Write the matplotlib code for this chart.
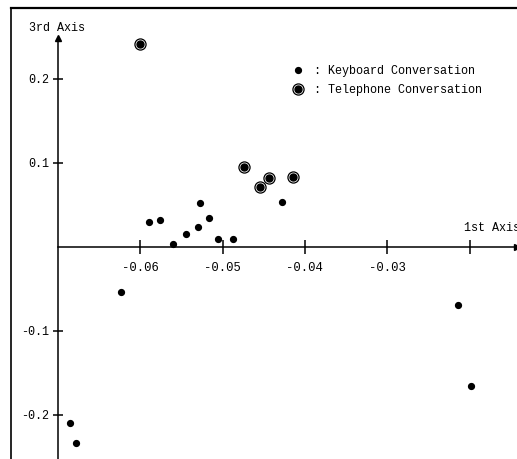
import matplotlib
matplotlib.use("Agg")
import matplotlib.pyplot as plt
from matplotlib.lines import Line2D

# keyboard conversation points (1st axis, 3rd axis)
kb_x = [-0.0590, -0.0576, -0.0560, -0.0544, -0.0530, -0.0527, -0.0516, -0.0506,
        -0.0487, -0.0428, -0.0623, -0.0685, -0.0678, -0.0214, -0.0198]
kb_y = [0.0290, 0.0321, 0.0029, 0.0151, 0.0231, 0.0520, 0.0342, 0.0088,
        0.0088, 0.0536, -0.0543, -0.2102, -0.2333, -0.0698, -0.1662]

# telephone conversation points
tel_x = [-0.0600, -0.0474, -0.0455, -0.0444, -0.0414]
tel_y = [0.2410, 0.0952, 0.0707, 0.0818, 0.0830]

xticks = [-0.06, -0.05, -0.04, -0.03, -0.02]
xtick_labels = ["-0.06", "-0.05", "-0.04", "-0.03", ""]
yticks = [-0.2, -0.1, 0.1, 0.2]
ytick_labels = ["-0.2", "-0.1", "0.1", "0.2"]

plt.rcParams['font.family'] = ['Liberation Mono', 'DejaVu Sans Mono']

W, H = 517, 459
fig = plt.figure(figsize=(W / 100, H / 100), dpi=100)
ax = fig.add_axes([58 / W, 0, 1 - 58 / W, 1 - 38 / H])

ax.set_xlim(-0.07, -0.01423)
ax.set_ylim(-0.2527, 0.2485)

ax.spines['top'].set_visible(False)
ax.spines['right'].set_visible(False)
ax.spines['left'].set_position(('data', -0.07))
ax.spines['bottom'].set_position(('data', 0))
ax.spines['left'].set_linewidth(1.1)
ax.spines['bottom'].set_linewidth(1.1)

# arrow heads
ax.plot(1, 0, '>', color='black', markersize=5, transform=ax.get_yaxis_transform(), clip_on=False)
ax.plot(-0.07, 1, '^', color='black', markersize=5, transform=ax.get_xaxis_transform(), clip_on=False)

ax.set_xticks(xticks)
ax.set_xticklabels(xtick_labels)
ax.set_yticks(yticks)
ax.set_yticklabels(ytick_labels)
ax.tick_params(axis='x', direction='inout', length=10, width=1.1, pad=6, labelsize=8.8)
ax.tick_params(axis='y', direction='inout', length=7, width=1.1, pad=3, labelsize=8.5)

# data
ax.plot(kb_x, kb_y, 'o', color='black', markersize=4.2, linestyle='none', clip_on=False)
ring = ax.plot(tel_x, tel_y, 'o', markerfacecolor='white', markeredgecolor='black',
               markeredgewidth=0.9, markersize=8, linestyle='none', clip_on=False)[0]
dot = ax.plot(tel_x, tel_y, 'o', color='black', markersize=5, linestyle='none', clip_on=False)[0]

kb_handle = Line2D([], [], marker='o', color='black', markersize=4.2, linestyle='none')
ax.legend([kb_handle, (ring, dot)], [": Keyboard Conversation", ": Telephone Conversation"],
          loc='upper left', bbox_to_anchor=(292 / W, 1 - 65 / H), bbox_transform=fig.transFigure,
          frameon=False, handlelength=1.0, handletextpad=0.9, labelspacing=0.6,
          fontsize=8.5, borderpad=0, borderaxespad=0)

fig.text(57 / W, 1 - 27.7 / H, "3rd Axis", ha='center', va='center', fontsize=8.5)
fig.text(464 / W, 1 - 228 / H, "1st Axis", ha='left', va='center', fontsize=8.5)

# scanned page frame
fig.add_artist(Line2D([11 / W, 11 / W], [0, 1 - 8 / H], transform=fig.transFigure,
                      color='black', linewidth=1.2))
fig.add_artist(Line2D([11 / W, 1], [1 - 8 / H, 1 - 8 / H], transform=fig.transFigure,
                      color='black', linewidth=1.6))

fig.savefig("out.png", dpi=100)
